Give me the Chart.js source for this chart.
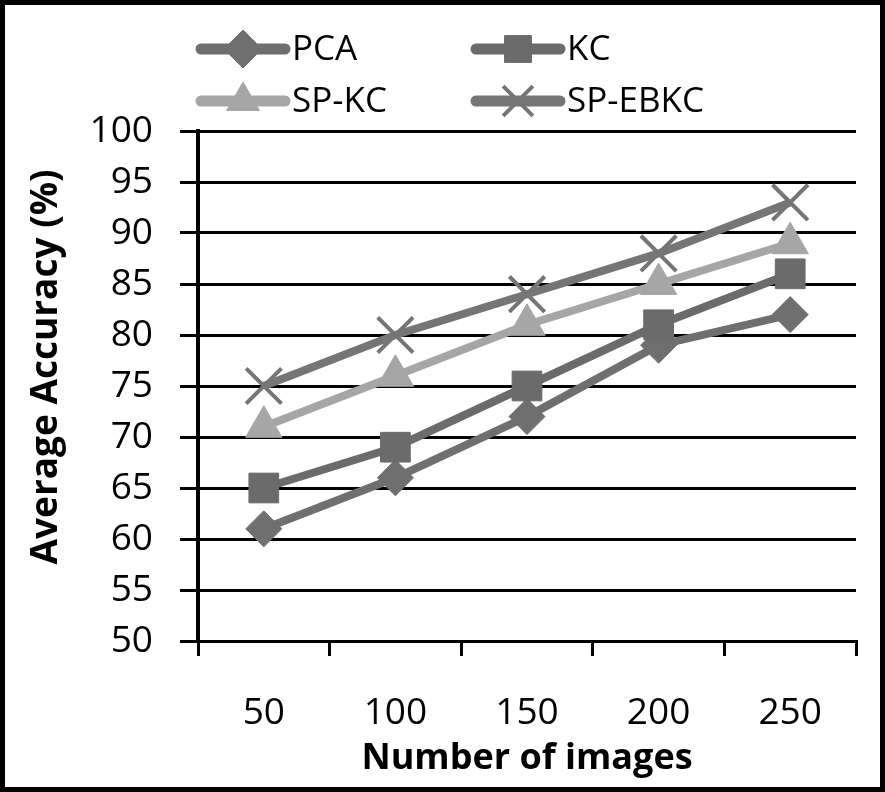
<!DOCTYPE html>
<html>
<head>
<meta charset="utf-8">
<script src="https://cdn.jsdelivr.net/npm/chart.js@4"></script>
<style>
  html, body { margin: 0; padding: 0; background: #fff; }
  #wrap { width: 885px; height: 792px; }
</style>
</head>
<body>
<div id="wrap"><canvas id="accChart" width="885" height="792"></canvas></div>
<script>
// values
let categories = ["50", "100", "150", "200", "250"];
let pcaValues = [61, 66, 72, 79, 82];
let kcValues = [65, 69, 75, 81, 86];
let spkcValues = [71, 76, 81, 85, 89];
let spebkcValues = [75, 80, 84, 88, 93];

const FONT = "'Open Sans', 'Noto Sans', sans-serif";

// legend drawn as line + marker, two columns like the original;
// the y title is drawn here too, as it sits a bit above the axis centre
const lineLegend = {
    id: "lineLegend",
    afterDraw(chart) {
        const ctx = chart.ctx;
        const spots = [[197, 49], [472, 49], [197, 101], [472, 101]];
        chart.data.datasets.forEach(function (ds, i) {
            const [x, y] = spots[i];
            ctx.save();
            ctx.strokeStyle = ds.borderColor;
            ctx.lineWidth = 11;
            ctx.lineCap = "round";
            ctx.beginPath();
            ctx.moveTo(x + 4, y);
            ctx.lineTo(x + 88, y);
            ctx.stroke();
            ctx.fillStyle = ds.pointBackgroundColor;
            ctx.strokeStyle = ds.pointBorderColor;
            ctx.lineWidth = ds.pointBorderWidth;
            ctx.lineCap = "butt";
            Chart.helpers.drawPoint(ctx, {
                pointStyle: ds.pointStyle,
                radius: ds.pointStyle === "crossRot" ? 21 : 19,
                rotation: 0,
                borderWidth: ds.pointBorderWidth
            }, x + 46, y);
            ctx.fillStyle = "#000";
            ctx.font = "35px " + FONT;
            ctx.textBaseline = "middle";
            ctx.fillText(ds.label, x + 95, y + 1);
            ctx.restore();
        });

        ctx.save();
        ctx.translate(46, 367);
        ctx.rotate(-Math.PI / 2);
        ctx.fillStyle = "#000";
        ctx.font = "bold 37px " + FONT;
        ctx.textAlign = "center";
        ctx.textBaseline = "middle";
        ctx.fillText("Average Accuracy (%)", 0, 0);
        ctx.restore();

        // outer frame
        ctx.save();
        ctx.strokeStyle = "#000";
        ctx.lineWidth = 5;
        ctx.strokeRect(2.5, 2.5, 880, 787);
        ctx.restore();
    }
};

function series(label, data, color, style, radius, order) {
    return {
        label: label,
        data: data,
        borderColor: color,
        backgroundColor: color,
        borderWidth: 8,
        pointStyle: style,
        pointRadius: radius,
        pointHoverRadius: radius,
        pointBackgroundColor: color,
        pointBorderColor: color,
        pointBorderWidth: style === "crossRot" ? 4 : 1,
        tension: 0,
        order: order
    };
}

new Chart(document.getElementById("accChart"), {
    type: "line",
    data: {
        labels: categories,
        datasets: [
            series("PCA", pcaValues, "#6f6f6f", "rectRot", 18, 4),
            series("KC", kcValues, "#6b6b6b", "rect", 21, 3),
            series("SP-KC", spkcValues, "#a6a6a6", "triangle", 21, 2),
            series("SP-EBKC", spebkcValues, "#757575", "crossRot", 25, 1)
        ]
    },
    options: {
        responsive: false,
        animation: false,
        layout: { padding: { left: 10, right: 20, top: 131, bottom: 10 } },
        plugins: {
            legend: { display: false },
            tooltip: { enabled: false }
        },
        scales: {
            x: {
                offset: true,
                grid: {
                    offset: true,
                    drawOnChartArea: false,
                    color: "#000",
                    lineWidth: 3,
                    tickLength: 15
                },
                border: { color: "#000", width: 3 },
                ticks: { color: "#000", padding: 35, font: { family: FONT, size: 37 } },
                title: {
                    display: true,
                    text: "Number of images",
                    color: "#000",
                    padding: { top: 0, bottom: 2 },
                    font: { family: FONT, size: 36, weight: "bold" }
                },
                afterFit(scale) { scale.height = 141; }
            },
            y: {
                min: 50,
                max: 100,
                ticks: { stepSize: 5, color: "#000", padding: 27, font: { family: FONT, size: 37 } },
                grid: { color: "#000", lineWidth: 3, tickLength: 18 },
                border: { color: "#000", width: 4 },
                afterFit(scale) { scale.width = 188; }
            }
        }
    },
    plugins: [lineLegend]
});
</script>
</body>
</html>
